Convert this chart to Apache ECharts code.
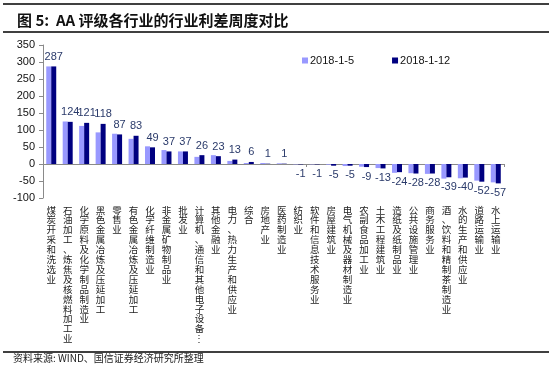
<!DOCTYPE html>
<html><head><meta charset="utf-8">
<script src="https://cdn.jsdelivr.net/npm/echarts@6/dist/echarts.min.js"></script>
<style>html,body{margin:0;padding:0;background:#fff;}#c{width:554px;height:373px;}</style>
</head><body><div id="c"></div>
<script>
const categories = ["煤炭开采和洗选业","石油加工、炼焦及核燃料加工业","化学原料及化学制品制造业","黑色金属冶炼及压延加工","零售业","有色金属冶炼及压延加工","化学纤维制造业","非金属矿物制品业","批发业","计算机、通信和其他电子设备制造业","其他金融业","电力、热力生产和供应业","综合","房地产业","医药制造业","纺织业","软件和信息技术服务业","房屋建筑业","电气机械及器材制造业","农副食品加工业","土木工程建筑业","造纸及纸制品业","公共设施管理业","商务服务业","酒、饮料和精制茶制造业","水的生产和供应业","道路运输业","水上运输业"];
const seriesNames = ["2018-1-5","2018-1-12"];
const values0105 = [287,125,112,93,89,74,52,41,37,21,26,9,3,3,2,-1,-1,-2,-6,-8,-12,-26,-27,-29,-43,-42,-49,-54];
const values0112 = [287,124,121,118,87,83,49,37,37,26,23,13,6,1,1,-1,-1,-5,-5,-9,-13,-24,-28,-28,-39,-40,-52,-57];
const yTicks = {min:-100, max:350, interval:50};

const chart = echarts.init(document.getElementById('c'), null, {renderer:'canvas'});
const cjk = '"Noto Sans CJK SC", sans-serif';
const lat = '"Liberation Sans", Arial, sans-serif';
chart.setOption({
  animation:false,
  backgroundColor:'#fff',
  title:{text:'图 5:  AA 评级各行业的行业利差周度对比', left:12, top:8,
    textStyle:{fontFamily:cjk, fontSize:15, fontWeight:'bold', color:'#111'}},
  graphic:[
    {type:'line', shape:{x1:3,y1:4,x2:549,y2:4}, style:{stroke:'#000',lineWidth:1.5}},
    {type:'line', shape:{x1:3,y1:32,x2:549,y2:32}, style:{stroke:'#000',lineWidth:1.5}},
    {type:'line', shape:{x1:3,y1:352,x2:549,y2:352}, style:{stroke:'#000',lineWidth:1.5}},
    {type:'text', left:13, top:353, style:{text:'资料来源: WIND、国信证券经济研究所整理', font:'10px '+cjk, fill:'#222'}}
  ],
  legend:{left:297, top:50, itemWidth:6, itemHeight:6, itemGap:38, icon:'rect',
    textStyle:{fontFamily:lat, fontSize:11, color:'#111', padding:[0,0,0,-3]}, data:seriesNames},
  grid:{left:43, top:45, width:461, height:153},
  xAxis:[
    {type:'category', data:categories, position:'bottom',
     axisLine:{onZero:true, lineStyle:{color:'#8a8a8a'}},
     axisTick:{show:true, length:3, lineStyle:{color:'#8a8a8a'}},
     axisLabel:{show:false}},
    {type:'category', data:categories, position:'bottom',
     axisLine:{show:false, onZero:false}, axisTick:{show:false},
     axisLabel:{interval:0, margin:7, fontFamily:cjk, fontSize:9.5, lineHeight:9.9, color:'#222',
       formatter:function(v){ let s = v.length>14 ? v.slice(0,13)+'⋮' : v; return s.split('').join('\n'); }}}
  ],
  yAxis:{type:'value', min:yTicks.min, max:yTicks.max, interval:yTicks.interval,
    axisLine:{show:true, lineStyle:{color:'#8a8a8a'}},
    axisTick:{show:true, length:4, lineStyle:{color:'#8a8a8a'}},
    splitLine:{show:false},
    axisLabel:{fontFamily:lat, fontSize:11, color:'#111', margin:8}},
  series:[
    {name:seriesNames[0], type:'bar', data:values0105, barWidth:5, barGap:'0%', itemStyle:{color:'#9999FF'}},
    {name:seriesNames[1], type:'bar', data:values0112.map(v=>({value:v, label:{position: v>=0?'top':'bottom'}})), barWidth:5, barGap:'0%',
     itemStyle:{color:'#000080'},
     label:{show:true, fontFamily:lat, fontSize:11, color:'#2a3a6a', distance:4}}
  ]
});
</script></body></html>
